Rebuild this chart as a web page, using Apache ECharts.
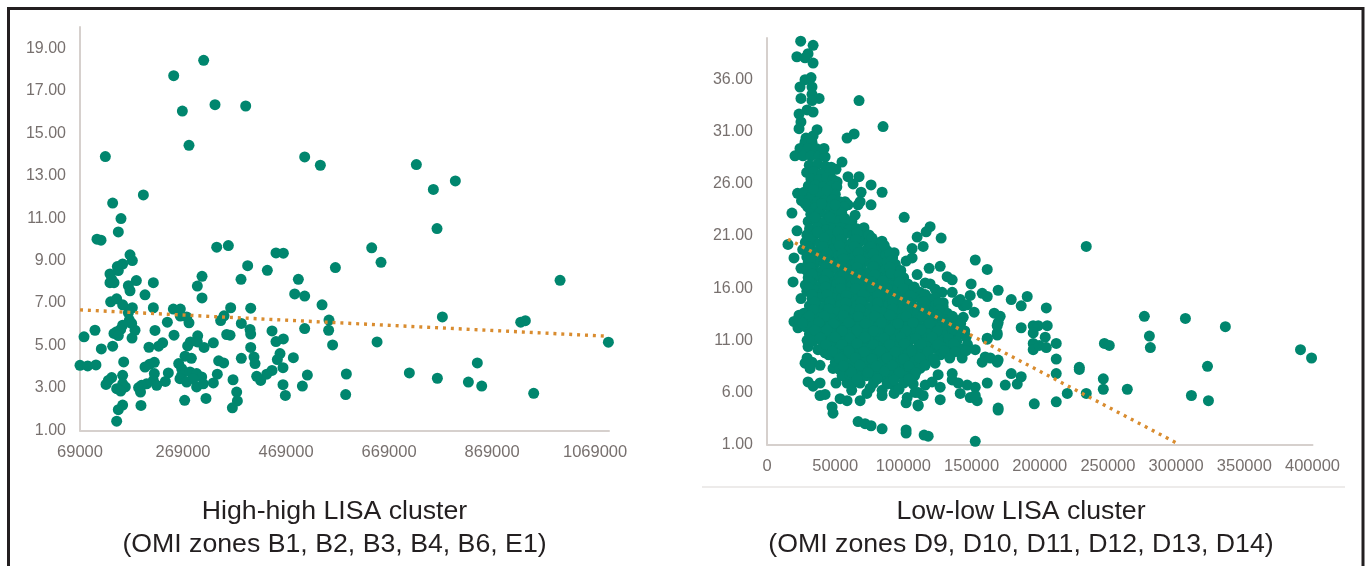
<!DOCTYPE html>
<html><head><meta charset="utf-8">
<style>html,body{margin:0;padding:0;background:#fff}#c{width:1366px;height:566px}</style>
<script src="https://cdn.jsdelivr.net/npm/echarts@6/dist/echarts.min.js"></script>
</head><body><div id="c"></div>
<script>
const leftTitle = "High-high LISA cluster\n(OMI zones B1, B2, B3, B4, B6, E1)";
const rightTitle = "Low-low LISA cluster\n(OMI zones D9, D10, D11, D12, D13, D14)";
const highHighTrend = [[69000,6.68],[1092000,5.44]];
const lowLowTrend = [[15400,20.7],[301000,1.1]];
const highHighPoints = [
[309100,18.43],[250900,17.71],[267700,16.04],[331100,16.34],[390700,16.28],[280600,14.43],[118200,13.9],[505200,13.88],[535600,13.49],[192000,12.09],
[132400,11.71],[148600,10.98],[143400,10.35],[102000,10.01],[109800,9.96],[334400,9.63],[357000,9.71],[449500,9.36],[463800,9.35],[166100,9.27],
[170600,9.0],[151800,8.84],[141500,8.72],[143400,8.53],[127200,8.37],[394500,8.76],[432700,8.54],[564800,8.67],[305900,8.26],[381600,8.12],
[492900,8.12],[178400,8.06],[211400,7.96],[130500,8.12],[127200,7.96],[135000,7.96],[162900,7.82],[166100,7.58],[195200,7.39],[296800,7.8],
[305900,7.24],[485800,7.43],[505200,7.33],[538900,6.92],[128500,7.06],[140200,7.2],[151800,6.92],[170600,6.78],[162900,6.54],[211400,6.78],
[361500,6.78],[400400,6.76],[250200,6.72],[263800,6.72],[263800,6.39],[276100,6.35],[348600,6.4],[342100,6.18],[280600,6.07],[238600,6.1],
[382200,6.04],[552400,6.2],[164800,6.2],[169300,6.04],[151800,5.96],[147900,5.76],[175800,5.72],[98100,5.72],[140200,5.65],[135000,5.57],
[143400,5.47],[76800,5.41],[214600,5.71],[399100,5.76],[400400,5.54],[353800,5.52],[360300,5.49],[251500,5.49],[170000,5.35],[297500,5.46],
[441800,5.69],[505200,5.8],[551700,5.72],[559400,5.03],[463800,5.31],[449500,5.19],[327900,5.13],[283200,5.17],[278000,4.98],[296800,5.17],
[229500,5.13],[221700,4.97],[202900,4.92],[309800,4.91],[400400,4.91],[132400,4.97],[110400,4.84],[457300,4.62],[406800,4.46],[452100,4.34],
[483200,4.43],[382200,4.4],[272900,4.5],[285200,4.4],[338200,4.28],[347900,4.18],[408800,4.15],[69000,4.07],[83900,4.04],[100000,4.09],
[153800,4.23],[213300,4.21],[204200,4.12],[195200,3.99],[260600,4.15],[266400,3.91],[463100,3.96],[441800,3.83],[431500,3.65],[419800,3.36],
[412000,3.55],[510400,3.61],[335600,3.65],[213300,3.68],[240500,3.71],[266400,3.6],[282500,3.76],[295400,3.68],[305200,3.52],[151800,3.6],
[130500,3.49],[124000,3.36],[119500,3.17],[366100,3.39],[263100,3.44],[276100,3.28],[295400,3.05],[308400,3.2],[289000,3.44],[234700,3.31],
[211400,3.36],[217900,3.13],[198300,3.2],[188600,3.13],[182800,3.02],[327900,3.24],[463100,3.16],[500700,3.09],[151800,3.2],[157000,3.05],
[140200,2.97],[148000,2.86],[186500,2.81],[373200,2.81],[467700,2.65],[313600,2.51],[272200,2.42],[374500,2.39],[151800,2.2],[187400,2.18],
[143400,1.98],[364800,2.07],[140200,1.44],[722000,13.52],[797700,12.75],[755000,12.35],[762100,10.51],[635300,9.6],[653400,8.92],[1001000,8.07],
[772500,6.35],[924600,6.1],[933600,6.17],[1094800,5.16],[645700,5.17],[840400,4.18],[586100,3.66],[584800,2.69],[708400,3.71],[762800,3.46],
[823000,3.28],[848900,3.09],[949800,2.75]
];
const lowLowOuterPoints = [
[24700,39.7],[33800,39.3],[30100,38.5],[21900,38.2],[27900,38.1],[33800,37.6],[32300,36.2],[27900,36.0],[33000,35.3],[24200,35.3],
[33000,34.6],[24900,34.2],[38200,34.2],[33000,34.0],[33800,32.9],[29400,33.1],[23500,32.7],[24900,31.95],[23500,31.3],[36700,31.2],
[33800,30.6],[28600,30.4],[63900,30.8],[58700,30.4],[67500,34.0],[85100,31.5],[27900,30.0],[33000,30.0],[24200,29.4],[30100,29.4],
[36000,29.4],[20500,28.7],[26400,28.7],[32300,28.7],[38200,28.7],[42600,28.6],[41800,29.4],[55000,28.1],[50600,27.4],[59400,26.7],
[67500,26.7],[63100,26.0],[76300,25.9],[84400,25.2],[69000,25.2],[68300,24.3],[76300,24.0],[66800,24.0],[51400,26.2],[64600,23.0],
[57200,24.3],[59400,24.0],[18300,23.2],[22000,21.5],[15400,20.2],[19800,18.9],[24900,17.9],[19100,16.6],[24900,15.0],[33000,15.0],
[19800,12.8],[23500,13.4],[22700,12.2],[26400,12.5],[29400,11.0],[30100,10.4],[36700,11.2],[37400,10.1],[42600,9.8],[29400,9.3],
[33000,8.9],[27900,8.8],[38900,8.6],[31600,8.3],[48400,8.3],[53600,8.4],[30100,7.0],[33800,6.6],[38900,6.9],[38900,5.7],
[42600,5.8],[47700,4.6],[48400,4.0],[53600,5.4],[58700,5.2],[50600,6.9],[58700,6.9],[68300,6.9],[68300,5.2],[75600,6.4],
[84400,6.2],[84400,5.7],[94000,6.5],[93200,5.9],[102800,5.5],[102000,5.0],[110800,4.8],[110800,6.0],[66800,3.2],[71900,3.0],
[76300,2.8],[84400,2.5],[102000,2.4],[102000,2.1],[115200,1.9],[118200,1.8],[152700,1.3],[169500,4.3],[169500,4.5],[127000,5.3],
[110800,4.7],[114500,5.7],[108600,6.0],[127000,6.5],[125500,7.7],[121100,7.0],[116000,6.7],[135800,7.8],[135800,7.2],[140200,6.9],
[146800,6.7],[152700,6.5],[141700,5.9],[149000,5.5],[154100,5.2],[152700,5.7],[161500,6.9],[174700,6.7],[179100,7.8],[183500,6.8],
[114500,9.8],[118200,9.3],[123300,8.8],[143100,9.3],[152700,10.1],[160000,9.4],[157800,8.9],[163700,9.3],[168800,8.9],[168800,11.7],
[169500,12.7],[161500,11.2],[234100,20.0],[152700,18.7],[161500,17.8],[135800,16.8],[149700,16.4],[169500,15.8],[157800,15.5],[161500,15.2],
[149000,15.3],[190800,15.2],[179100,14.9],[186400,14.3],[204800,14.1],[166600,13.6],[171000,13.3],[151900,13.7],[143900,14.3],[139500,14.7],
[276700,13.3],[306800,13.1],[336100,12.3],[280400,11.4],[281100,10.3],[247400,10.7],[251000,10.5],[391200,10.1],[399300,9.3],[323000,8.5],
[229000,8.4],[229000,8.2],[246600,7.3],[246600,6.3],[264200,6.3],[311200,5.7],[323700,5.2],[234100,5.9],[220200,5.9],[212100,5.1],
[196000,4.9],[212100,7.8],[212100,9.2],[212100,10.7],[186400,12.2],[195200,12.4],[198900,12.4],[205500,12.4],[195200,11.7],[204000,11.3],
[195200,10.7],[195200,10.1],[199600,10.5],[204800,10.3],[186400,7.5],[169500,9.1],[168800,11.5],[168800,12.4],[161500,11.1],
[100600,22.8],[119600,21.9],[116700,21.4],[110100,20.9],[127700,20.8],[114500,20.0],[106400,19.8],[93200,19.4],[106400,18.9],[102000,18.6],
[118900,17.9],[127000,18.1],[110100,17.3],[132100,17.1],[116000,16.5],[119600,16.4],[123300,15.9],[128400,15.6],[110100,15.7],[135800,15.6],
[141700,14.9],[146800,14.4],[143900,13.2],[129200,14.6]
];
const lowLowDensePoints = [
[31000,27.8],[37200,27.9],[42800,27.7],[47100,27.6],[29100,27.1],[34300,27.2],[40400,27.0],[46200,27.1],[32200,26.5],[38100,26.4],[43700,26.6],[48300,26.4],
[30300,25.8],[35800,25.9],[41200,25.7],[46900,25.8],[51200,25.7],[22400,25.1],[27200,25.2],[33100,25.0],[38700,25.1],[45200,25.2],[50100,25.0],
[25300,24.4],[31100,24.5],[36900,24.3],[42300,24.4],[47800,24.5],[53200,24.3],[29800,23.8],[35300,23.7],[41100,23.9],[46200,23.8],[51800,23.7],[56300,23.8],
[32100,23.1],[38200,23.2],[43900,23.0],[49200,23.1],[54800,23.2],[30200,22.4],[36100,22.5],[41800,22.3],[47300,22.4],[53200,22.5],[58100,22.3],[62200,22.4],
[31200,21.7],[37100,21.8],[43200,21.6],[48800,21.7],[54300,21.8],[60100,21.6],[65800,21.7],[71100,21.8],[29200,21.1],[34100,21.0],[40200,21.2],[46100,21.1],[51800,21.0],[57200,21.2],[63100,21.1],[69200,21.0],[74800,21.1],
[28100,20.4],[33200,20.5],[39100,20.3],[44800,20.4],[51200,20.5],[56100,20.3],[62300,20.4],[67800,20.5],[74100,20.3],[79200,20.4],[84300,20.5],
[26200,19.7],[32100,19.8],[37800,19.6],[43200,19.7],[49100,19.8],[55200,19.6],[60800,19.7],[66300,19.8],[72200,19.6],[78100,19.7],[83200,19.8],[88100,19.6],
[29200,19.0],[35100,19.1],[41200,18.9],[46800,19.0],[52300,19.1],[58200,18.9],[64100,19.0],[69800,19.1],[75200,18.9],[81100,19.0],[87200,19.1],[92100,18.9],
[30100,18.4],[36200,18.5],[41800,18.3],[48100,18.4],[53200,18.5],[59200,18.3],[65100,18.4],[71200,18.5],[76800,18.3],[82100,18.4],[88200,18.5],[94100,18.3],
[29100,17.7],[34200,17.8],[40100,17.6],[46200,17.7],[51800,17.8],[58100,17.6],[63200,17.7],[69100,17.8],[75300,17.6],[81100,17.7],[86800,17.8],[92200,17.6],[98100,17.7],
[30200,17.0],[36100,17.1],[41800,16.9],[47200,17.0],[53100,17.1],[59200,16.9],[65100,17.0],[70800,17.1],[76200,16.9],[82100,17.0],[88200,17.1],[94100,16.9],[100200,17.0],
[28100,16.3],[33200,16.4],[39100,16.2],[45200,16.3],[51100,16.4],[56800,16.2],[62300,16.3],[68100,16.4],[74200,16.2],[80100,16.3],[85800,16.4],[91200,16.2],[97100,16.3],[103200,16.4],
[29200,15.7],[35100,15.8],[41200,15.6],[46800,15.7],[52800,15.8],[58100,15.6],[64200,15.7],[70100,15.8],[75800,15.6],[82100,15.7],[88200,15.8],[93100,15.6],[99200,15.7],[105100,15.8],[112200,15.6],
[38100,15.1],[43800,14.9],[49200,15.0],[55100,15.1],[61200,14.9],[67100,15.0],[72800,15.1],[78200,14.9],[84100,15.0],[90200,15.1],[96100,14.9],[102200,15.0],[107800,15.1],[113200,14.9],[119100,15.0],[123200,15.1],
[31100,14.3],[36800,14.4],[42200,14.2],[48100,14.3],[54200,14.4],[60100,14.2],[65800,14.3],[71200,14.4],[77100,14.2],[83200,14.3],[89100,14.4],[94800,14.2],[100200,14.3],[106100,14.4],[112200,14.2],[118100,14.3],[123800,14.4],[129200,14.2],
[27100,13.6],[33200,13.7],[39100,13.5],[44800,13.6],[51200,13.7],[56100,13.5],[62200,13.6],[68100,13.7],[73800,13.5],[80100,13.6],[85200,13.7],[91100,13.5],[97200,13.6],[103100,13.7],[108800,13.5],[115200,13.6],[120100,13.7],[126200,13.5],[132100,13.6],
[23200,13.0],[29100,13.1],[34800,12.9],[41200,13.0],[47100,13.1],[53200,12.9],[58800,13.0],[64200,13.1],[70100,12.9],[76200,13.0],[82100,13.1],[87800,12.9],[94200,13.0],[99100,13.1],[105200,12.9],[111100,13.0],[116800,13.1],[123200,12.9],[129100,13.0],[134200,13.1],[139100,12.9],
[28100,12.3],[33800,12.4],[40200,12.2],[46100,12.3],[51200,12.4],[57100,12.2],[63200,12.3],[68800,12.4],[75100,12.2],[81200,12.3],[86100,12.4],[92200,12.2],[98100,12.3],[103800,12.4],[110200,12.2],[116100,12.3],[122200,12.4],[126800,12.2],[133100,12.3],[139200,12.4],
[31100,11.6],[36800,11.7],[42200,11.5],[48100,11.6],[54200,11.7],[60100,11.5],[65800,11.6],[72200,11.7],[77100,11.5],[83200,11.6],[89100,11.7],[94800,11.5],[101200,11.6],[107100,11.7],[112800,11.5],[118200,11.6],[124100,11.7],[130200,11.5],[136100,11.6],[141200,11.7],
[33800,10.9],[40200,11.0],[46100,10.8],[52200,10.9],[58100,11.0],[63200,10.8],[69100,10.9],[74800,11.0],[81200,10.8],[87100,10.9],[93200,11.0],[98100,10.8],[103800,10.9],[110200,11.0],[116100,10.8],[122200,10.9],[127800,11.0],[133200,10.8],[139100,10.9],
[41100,10.3],[46800,10.4],[53200,10.2],[59100,10.3],[65200,10.4],[70100,10.2],[75800,10.3],[82200,10.4],[88100,10.2],[94200,10.3],[100100,10.4],[104800,10.2],[111200,10.3],[117100,10.4],[123200,10.2],[129100,10.3],[134800,10.4],[141200,10.2],
[45200,9.6],[51100,9.7],[56800,9.5],[62200,9.6],[68100,9.7],[74200,9.5],[80100,9.6],[85800,9.7],[92200,9.5],[97100,9.6],[103200,9.7],[109100,9.5],[127200,9.6],[133100,9.7],
[50100,8.9],[55800,9.0],[62200,8.8],[68100,8.9],[73200,9.0],[79100,8.8],[85200,8.9],[90800,9.0],[97200,8.8],[103100,8.9],[108200,9.0],[114100,8.8],
[53200,8.2],[59100,8.3],[64800,8.1],[71200,8.2],[77100,8.3],[83200,8.1],[88100,8.2],[93800,8.3],[100200,8.1],[106100,8.2],[112200,8.3],
[55100,7.6],[60800,7.7],[67200,7.5],[73100,7.6],[79200,7.7],[85100,7.5],[90800,7.6],[96200,7.7],[102100,7.5],[108200,7.6],
[63200,6.9],[78100,6.9],[90100,7.0],[100200,6.9],[107200,6.8],[96800,6.3],[88100,6.8],[73200,5.9],[62100,6.2]
];
const lowLowInnerPoints = [
[34000,25.5],[44000,25.4],[28000,24.1],[40000,24.1],[50000,24.0],[35000,22.8],[46000,22.8],[57000,22.7],[37000,21.4],[52000,21.4],[66000,21.3],
[31000,20.7],[42000,20.8],[54000,20.7],[65000,20.7],[77000,20.8],[30000,20.0],[41000,20.0],[53000,20.1],[64000,20.0],[76000,20.0],[86000,20.1],
[33000,19.35],[44000,19.4],[55000,19.3],[67000,19.4],[78000,19.3],[90000,19.3],[32000,18.7],[44000,18.7],[56000,18.8],[68000,18.7],[80000,18.7],[91000,18.6],
[32000,18.0],[43000,18.1],[55000,18.0],[66000,18.0],[78000,18.1],[90000,18.0],[33000,17.35],[44000,17.4],[56000,17.3],[68000,17.4],[79000,17.3],[91000,17.4],[97000,17.3],
[31000,16.65],[42000,16.7],[54000,16.6],[65000,16.7],[77000,16.6],[85000,16.7],[97000,16.6],[31000,16.0],[43000,16.1],[54000,16.0],[65000,16.0],[77000,16.1],[88000,16.0],[100000,16.0],[108000,16.1],
[33000,15.35],[44000,15.4],[58000,15.3],[70000,15.4],[81000,15.3],[93000,15.4],[105000,15.3],[116000,15.4],[35000,14.65],[46000,14.7],[58000,14.6],[69000,14.7],[81000,14.6],[92000,14.7],[104000,14.6],[115000,14.7],[126000,14.6],
[34000,13.95],[45000,14.0],[57000,13.9],[68000,14.0],[80000,13.9],[92000,14.0],[103000,13.9],[115000,14.0],[126000,13.9],[31000,13.3],[42000,13.3],[56000,13.4],[67000,13.3],[79000,13.3],[90000,13.4],[102000,13.3],[114000,13.3],[125000,13.4],[136000,13.3],
[26000,12.65],[38000,12.7],[49000,12.6],[60000,12.7],[72000,12.6],[84000,12.7],[96000,12.6],[107000,12.7],[119000,12.6],[131000,12.7],[142000,12.6],
[35000,11.95],[44000,12.0],[55000,11.9],[66000,12.0],[78000,11.9],[90000,12.0],[102000,11.9],[113000,12.0],[125000,11.9],[136000,12.0],[145000,11.9],
[39000,11.25],[50000,11.3],[61000,11.2],[72000,11.3],[86000,11.2],[98000,11.3],[109000,11.2],[121000,11.3],[133000,11.2],[146000,11.3],
[43000,10.6],[55000,10.6],[66000,10.7],[78000,10.6],[90000,10.6],[101000,10.7],[113000,10.6],[125000,10.6],[137000,10.7],[147000,10.6],
[48000,9.95],[60000,10.0],[71000,9.9],[83000,10.0],[94000,9.9],[106000,10.0],[118000,9.9],[130000,10.0],[138000,9.9],[146000,10.0],
[53000,9.25],[65000,9.3],[77000,9.2],[88000,9.3],[100000,9.2],[112000,9.3],[122000,9.2],[134000,9.3],[56000,8.55],[68000,8.6],[80000,8.5],[92000,8.6],[104000,8.5],[116000,8.6],
[62000,7.9],[74000,7.9],[86000,8.0],[97000,7.9],[109000,7.9],[66000,7.25],[81000,7.3],[93000,7.2],[104000,7.3]
];
const ink = "#231f20", green = "#00866e", orange = "#d98c2f", axisColor = "#d6d0cd", labelColor = "#77706e";
const lowLowPoints = lowLowOuterPoints.concat(lowLowDensePoints, lowLowInnerPoints);
function axisBase(extra){
  return Object.assign({
    type:"value", splitLine:{show:false}, axisTick:{show:false},
    axisLine:{show:true,onZero:false,lineStyle:{color:axisColor,width:2}}
  },extra);
}
const xLabel = {color:labelColor,fontFamily:"Liberation Sans",fontSize:16.5,margin:13,showMaxLabel:false,formatter:v=>String(v)};
const yLabel = {color:labelColor,fontFamily:"Liberation Sans",fontSize:16,margin:14,showMaxLabel:false,formatter:v=>v.toFixed(2)};
const titleStyle = {fontFamily:"Liberation Sans",fontWeight:"normal",fontSize:26.7,lineHeight:33,color:ink};
const chart = echarts.init(document.getElementById("c"),null,{renderer:"canvas"});
chart.setOption({
  animation:false, backgroundColor:"#fff",
  title:[
    {text:leftTitle,left:334.5,top:495,padding:0,textAlign:"center",textStyle:titleStyle},
    {text:rightTitle,left:1021,top:495,padding:0,textAlign:"center",textStyle:titleStyle}
  ],
  grid:[
    {left:80,top:27,width:529,height:403.5},
    {left:767,top:38,width:545.5,height:406.5}
  ],
  xAxis:[
    axisBase({gridIndex:0,min:69000,max:1096000,interval:200000,axisLabel:Object.assign({},xLabel)}),
    axisBase({gridIndex:1,min:0,max:400000,interval:50000,axisLabel:Object.assign({},xLabel,{showMaxLabel:true})})
  ],
  yAxis:[
    axisBase({gridIndex:0,min:1,max:20,interval:2,axisLabel:yLabel}),
    axisBase({gridIndex:1,min:1,max:40,interval:5,axisLabel:yLabel})
  ],
  series:[
    {type:"scatter",xAxisIndex:0,yAxisIndex:0,data:highHighPoints,symbolSize:11,itemStyle:{color:green,opacity:1},z:2},
    {type:"line",xAxisIndex:0,yAxisIndex:0,data:highHighTrend,showSymbol:false,lineStyle:{color:orange,width:3.4,type:[3,4.9]},z:3},
    {type:"scatter",xAxisIndex:1,yAxisIndex:1,data:lowLowPoints,symbolSize:11,itemStyle:{color:green,opacity:1},z:2},
    {type:"line",xAxisIndex:1,yAxisIndex:1,data:lowLowTrend,showSymbol:false,lineStyle:{color:orange,width:3.4,type:[3,4.9]},z:3}
  ],
  graphic:[
    {type:"polyline",silent:true,shape:{points:[[8.5,566],[8.5,8.5],[1363,8.5],[1363,566]]},style:{fill:null,stroke:ink,lineWidth:3}},
    {type:"line",silent:true,shape:{x1:702,y1:487,x2:1345,y2:487},style:{stroke:"#dcd8d6",lineWidth:1.2}}
  ]
});
</script></body></html>
